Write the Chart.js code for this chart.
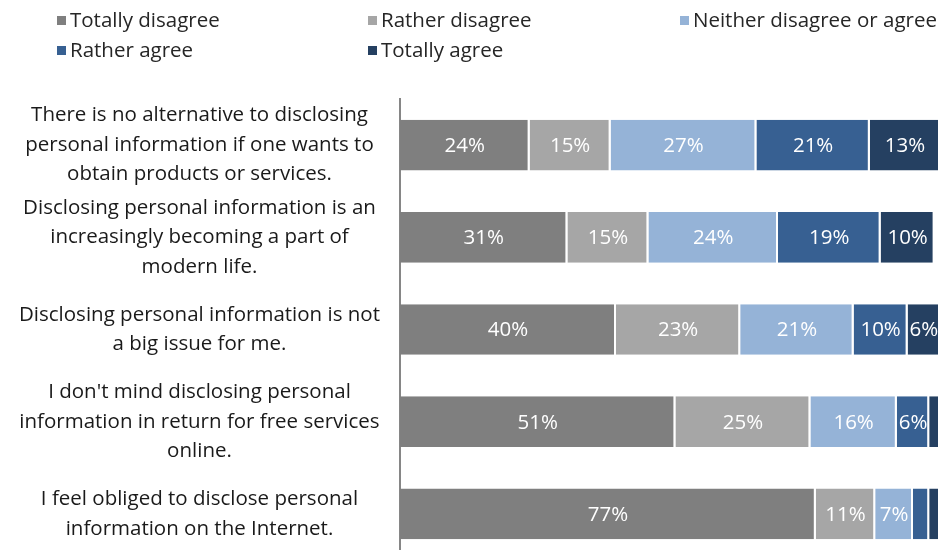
<!DOCTYPE html>
<html>
<head>
<meta charset="utf-8">
<script src="https://cdn.jsdelivr.net/npm/chart.js@4/dist/chart.umd.min.js"></script>
<style>
  html, body { margin: 0; padding: 0; background: #fff; overflow: hidden; }
  #wrap { position: relative; width: 941px; height: 560px; }
  #legend { position: absolute; left: 0; top: 0; width: 941px; height: 70px; font-family: "Open Sans", sans-serif; font-size: 20.5px; color: #262626; }
  .item { position: absolute; height: 30px; line-height: 30px; white-space: nowrap; }
  .item span { display: inline-block; width: 9px; height: 9px; margin-right: 4px; vertical-align: middle; position: relative; top: -1px; }
</style>
</head>
<body>
<div id="wrap">
  <canvas id="barChart" width="941" height="560"></canvas>
  <div id="legend"></div>
</div>
<script>
const categories = [
  ["There is no alternative to disclosing", "personal information if one wants to", "obtain products or services."],
  ["Disclosing personal information is an", "increasingly becoming a part of", "modern life."],
  ["Disclosing personal information is not", "a big issue for me."],
  ["I don't mind disclosing personal", "information in return for free services", "online."],
  ["I feel obliged to disclose personal", "information on the Internet."]
];
const seriesNames = ["Totally disagree", "Rather disagree", "Neither disagree or agree", "Rather agree", "Totally agree"];
const totallyDisagree = [24, 31, 40, 51, 77];
const ratherDisagree = [15, 15, 23, 25, 11];
const neither = [27, 24, 21, 16, 7];
const ratherAgree = [21, 19, 10, 6, 3];
const totallyAgree = [13, 10, 6, 2, 2];
const colors = ["#7f7f7f", "#a6a6a6", "#95b3d7", "#376092", "#254061"];

const values = [totallyDisagree, ratherDisagree, neither, ratherAgree, totallyAgree];

// legend grid like the original (3 columns)
const legendPos = [[57, 4], [368, 4], [680, 4], [57, 34], [368, 34]];
const legendEl = document.getElementById("legend");
seriesNames.forEach((name, i) => {
  const d = document.createElement("div");
  d.className = "item";
  d.style.left = legendPos[i][0] + "px";
  d.style.top = legendPos[i][1] + "px";
  d.innerHTML = '<span style="background:' + colors[i] + '"></span>' + name;
  legendEl.appendChild(d);
});

// white % labels in the middle of each segment
const barLabels = {
  id: "barLabels",
  afterDatasetsDraw(chart) {
    const ctx = chart.ctx;
    ctx.save();
    ctx.font = "20.5px 'Open Sans', sans-serif";
    ctx.fillStyle = "#ffffff";
    ctx.textAlign = "center";
    ctx.textBaseline = "middle";
    chart.data.datasets.forEach((ds, i) => {
      const meta = chart.getDatasetMeta(i);
      meta.data.forEach((bar, j) => {
        const v = ds.data[j];
        if (v < 5) return;
        const p = bar.getProps(["x", "y", "base"], true);
        ctx.fillText(v + "%", (p.x + p.base) / 2, p.y + 1);
      });
    });
    ctx.restore();
  }
};

const ctx = document.getElementById("barChart").getContext("2d");
new Chart(ctx, {
  type: "bar",
  data: {
    labels: categories,
    datasets: seriesNames.map((name, i) => ({
      label: name,
      data: values[i],
      backgroundColor: colors[i],
      borderColor: "#ffffff",
      borderWidth: { top: 0, bottom: 0, left: 0, right: 2 },
      borderSkipped: false,
      categoryPercentage: 1,
      barPercentage: 0.55,
    })),
  },
  options: {
    indexAxis: "y",
    responsive: false,
    animation: false,
    layout: { padding: { top: 99, right: 1, bottom: 0, left: 0 } },
    plugins: {
      legend: { display: false },
      tooltip: { enabled: false },
    },
    scales: {
      x: {
        stacked: true,
        min: 0,
        max: 100,
        display: false,
      },
      y: {
        stacked: true,
        grid: { display: false, drawTicks: false },
        border: { display: true, color: "#868686", width: 2 },
        ticks: {
          crossAlign: "center",
          padding: 20,
          color: "#1a1a1a",
          font: { family: "'Open Sans', sans-serif", size: 20.5, lineHeight: 1.44 },
        },
        afterFit(scale) {
          scale.width = 400;
          // labels may spill above/below, like the original
          scale.paddingTop = 0;
          scale.paddingBottom = 0;
        },
      },
    },
  },
  plugins: [barLabels],
});
</script>
</body>
</html>
